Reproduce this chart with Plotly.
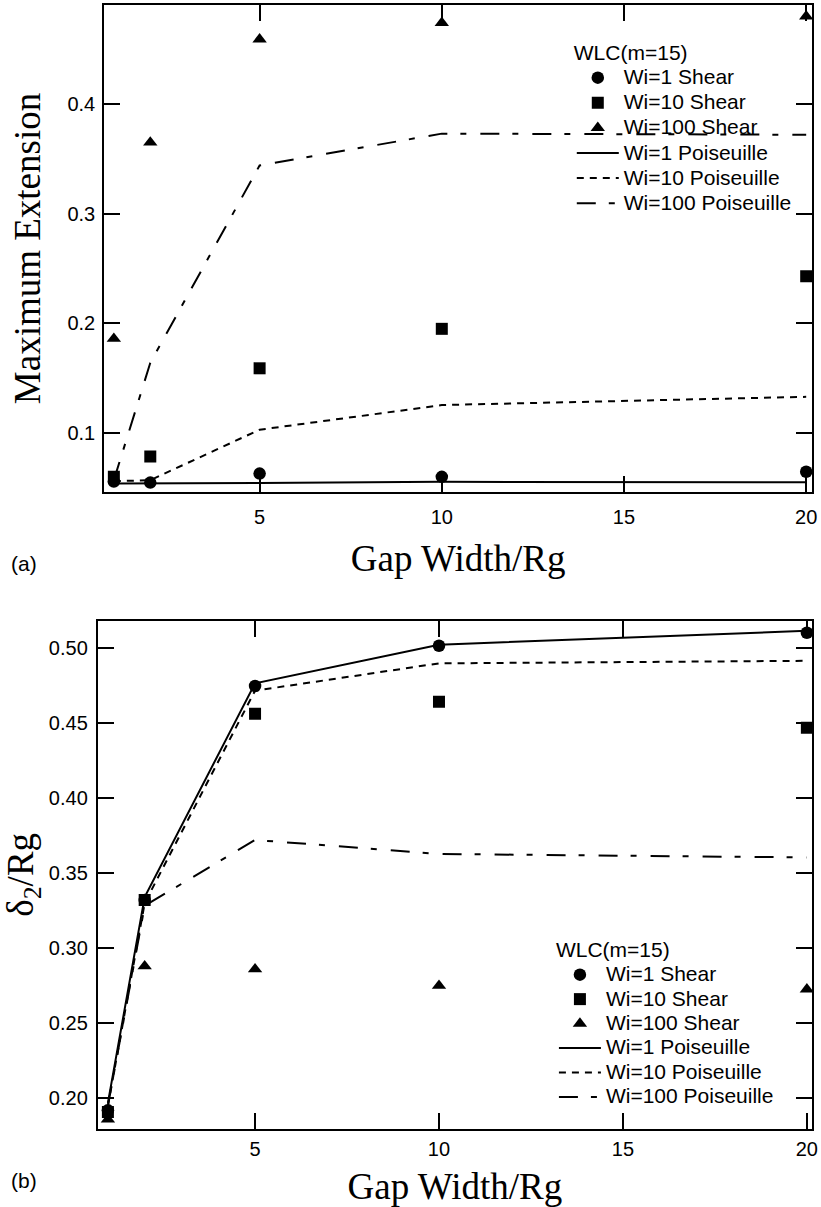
import plotly.graph_objects as go

# ---------------- data ----------------
gap_width = [1, 2, 5, 10, 20]

# panel (a): Maximum Extension
ext_wi1_shear = [0.0557, 0.0548, 0.063, 0.060, 0.0647]
ext_wi10_shear = [0.060, 0.0785, 0.159, 0.195, 0.243]
ext_wi100_shear = [0.186, 0.365, 0.459, 0.474, 0.480]
ext_wi1_pois = [0.054, 0.054, 0.0545, 0.0555, 0.0550]
ext_wi10_pois = [0.056, 0.057, 0.103, 0.1255, 0.133]
ext_wi100_pois = [0.057, 0.164, 0.344, 0.373, 0.372]

# panel (b): delta_2 / Rg
d2_wi1_shear = [0.192, 0.332, 0.4745, 0.5013, 0.510]
d2_wi10_shear = [0.191, 0.332, 0.456, 0.464, 0.4467]
d2_wi100_shear = [0.186, 0.288, 0.286, 0.275, 0.2726]
d2_wi1_pois = [0.197, 0.334, 0.4763, 0.502, 0.5113]
d2_wi10_pois = [0.195, 0.330, 0.4714, 0.4896, 0.4913]
d2_wi100_pois = [0.195, 0.3282, 0.372, 0.3627, 0.3604]

x_ticks = [5, 10, 15, 20]
x_ticklabels = ["5", "10", "15", "20"]
ya_ticks = [0.1, 0.2, 0.3, 0.4]
ya_ticklabels = ["0.1", "0.2", "0.3", "0.4"]
yb_ticks = [0.20, 0.25, 0.30, 0.35, 0.40, 0.45, 0.50]
yb_ticklabels = ["0.20", "0.25", "0.30", "0.35", "0.40", "0.45", "0.50"]

series_names = ["Wi=1 Shear", "Wi=10 Shear", "Wi=100 Shear",
                "Wi=1 Poiseuille", "Wi=10 Poiseuille", "Wi=100 Poiseuille"]
legend_title = "WLC(m=15)"

# ---------------- styles ----------------
SANS = "Liberation Sans, Arial, Helvetica, sans-serif"
SERIF = "Liberation Serif, Times New Roman, serif"
LEG_BIG = 21


def big(t):
    return f'<span style="font-size:{LEG_BIG}px">{t}</span>'


marker_styles = [dict(symbol="circle", size=12.5, color="black"),
                 dict(symbol="square", size=12, color="black"),
                 dict(symbol="triangle-up", size=12.5, color="black")]
line_styles = [dict(color="black", width=2, dash="solid"),
               dict(color="black", width=2, dash="7px,6px"),
               dict(color="black", width=2, dash="19px,13px,6px,14px")]

fig = go.Figure()

panels = [
    ("x", "y", "legend",
     [ext_wi1_shear, ext_wi10_shear, ext_wi100_shear],
     [ext_wi1_pois, ext_wi10_pois, ext_wi100_pois]),
    ("x2", "y2", "legend2",
     [d2_wi1_shear, d2_wi10_shear, d2_wi100_shear],
     [d2_wi1_pois, d2_wi10_pois, d2_wi100_pois]),
]

for xa, ya, leg, shear, pois in panels:
    for i, vals in enumerate(shear):
        fig.add_trace(go.Scatter(x=gap_width, y=vals, mode="markers",
                                 marker=marker_styles[i], name=big(series_names[i]),
                                 xaxis=xa, yaxis=ya, legend=leg, hoverinfo="skip"))
    for i, vals in enumerate(pois):
        fig.add_trace(go.Scatter(x=gap_width, y=vals, mode="lines",
                                 line=line_styles[i], name=big(series_names[3 + i]),
                                 xaxis=xa, yaxis=ya, legend=leg, hoverinfo="skip"))

W, H = 821, 1207
common = dict(showline=True, linewidth=2, linecolor="black", mirror="ticks",
              ticks="inside", ticklen=16, tickwidth=2, tickcolor="black",
              showgrid=False, zeroline=False, ticklabeloverflow="allow",
              tickfont=dict(family=SANS, size=20, color="black"))

title_font = dict(family=SERIF, size=37, color="black")

fig.update_layout(
    width=W, height=H,
    margin=dict(l=0, r=0, t=0, b=0, pad=0),
    paper_bgcolor="white", plot_bgcolor="white",
    showlegend=True,
    xaxis=dict(domain=[105 / W, 818 / W], range=[0.736, 20.16],
               tickvals=x_ticks, ticktext=x_ticklabels, anchor="y",
               ticklabelstandoff=6,
               title=dict(text="Gap Width/Rg", font=title_font, standoff=18),
               **common),
    yaxis=dict(domain=[1 - 492 / H, 1 - 5 / H], range=[0.0462, 0.4903],
               tickvals=ya_ticks, ticktext=ya_ticklabels, anchor="x",
               ticklabelstandoff=3,
               title=dict(text="Maximum Extension", font=title_font, standoff=15),
               **common),
    xaxis2=dict(domain=[98.5 / W, 818 / W], range=[0.725, 20.14],
                tickvals=x_ticks, ticktext=x_ticklabels, anchor="y2",
                ticklabelstandoff=1,
                title=dict(text="Gap Width/Rg", font=title_font, standoff=15),
                **common),
    yaxis2=dict(domain=[1 - 1129 / H, 1 - 620.7 / H], range=[0.1796, 0.518],
                tickvals=yb_ticks, ticktext=yb_ticklabels, anchor="x2",
                ticklabelstandoff=4,
                title=dict(text="δ<sub>2</sub>/Rg", font=title_font, standoff=16),
                **common),
    legend=dict(x=576 / W, y=1 - 38 / H, xanchor="left", yanchor="top",
                bgcolor="rgba(0,0,0,0)", borderwidth=0,
                font=dict(family=SANS, size=17, color="black"),
                title=dict(text=big(legend_title),
                           font=dict(family=SANS, size=17, color="black")),
                itemwidth=42, traceorder="normal"),
    legend2=dict(x=558 / W, y=1 - 936 / H, xanchor="left", yanchor="top",
                 bgcolor="rgba(0,0,0,0)", borderwidth=0,
                 font=dict(family=SANS, size=16.5, color="black"),
                 title=dict(text=big(legend_title),
                            font=dict(family=SANS, size=16.5, color="black")),
                 itemwidth=42, traceorder="normal"),
    annotations=[
        dict(text="(a)", x=9 / W, y=1 - 563 / H, xref="paper", yref="paper",
             xanchor="left", yanchor="middle", showarrow=False,
             font=dict(family=SANS, size=21, color="black")),
        dict(text="(b)", x=9 / W, y=1 - 1180 / H, xref="paper", yref="paper",
             xanchor="left", yanchor="middle", showarrow=False,
             font=dict(family=SANS, size=21, color="black")),
    ],
)

fig.write_html("out.html")
